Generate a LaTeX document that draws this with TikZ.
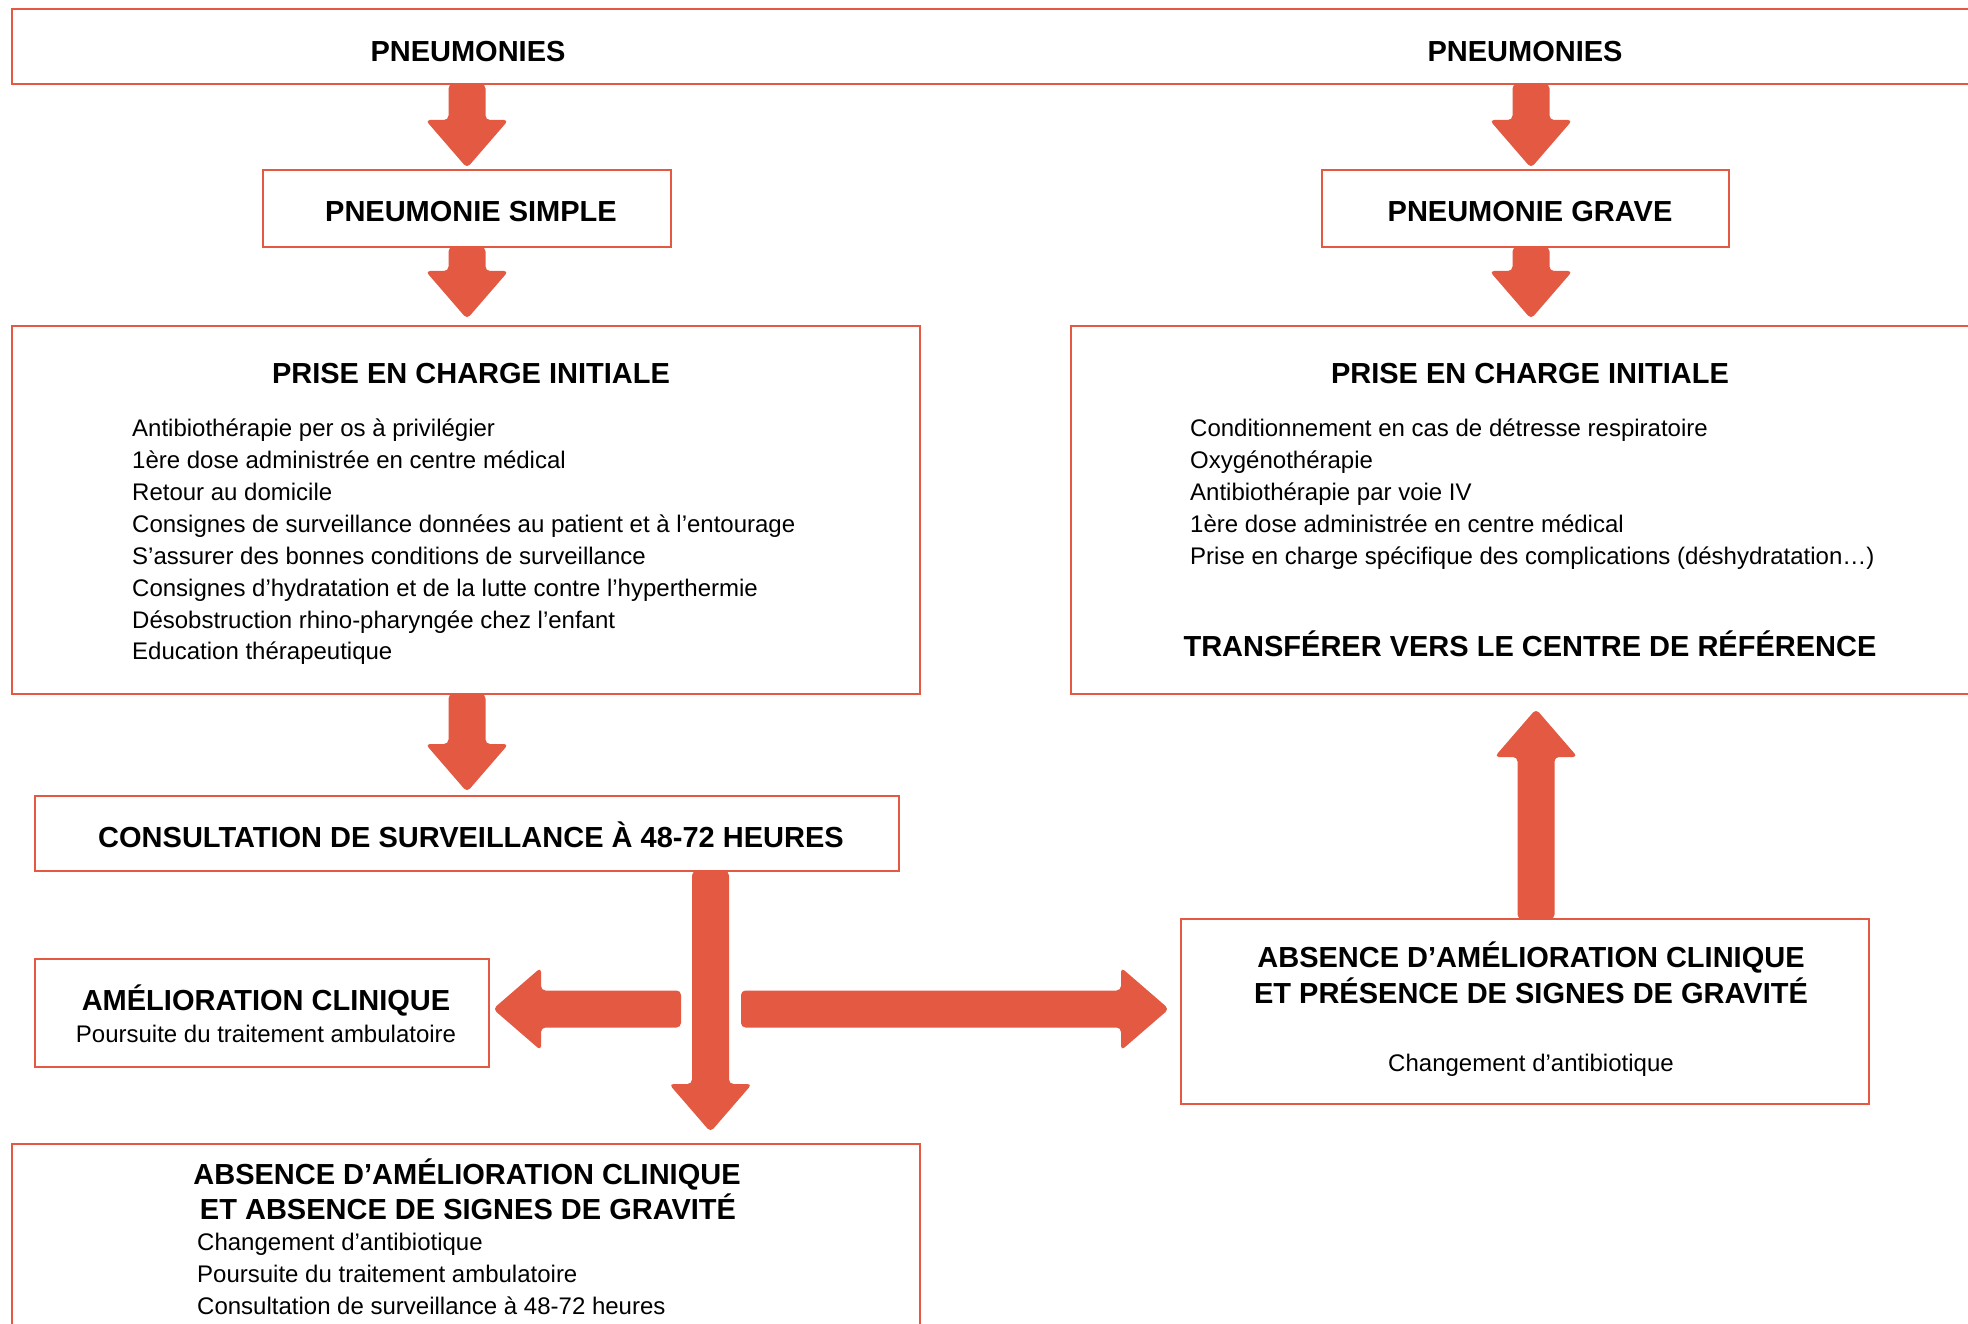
\documentclass[tikz,border=0pt]{standalone}
\usepackage{fontspec}
\setmainfont{Liberation Sans}
\usetikzlibrary{calc}
\definecolor{orc}{RGB}{228,89,66}
\tikzset{
  box/.style={draw=orc, line width=2.4pt, inner sep=0pt, outer sep=0pt, anchor=north west},
  ttl/.style={font=\fontsize{29}{34}\selectfont\bfseries, anchor=base, inner sep=0pt, yshift=-1.3pt},
  txt/.style={font=\fontsize{24}{29}\selectfont, anchor=base west, inner sep=0pt, yshift=-1.3pt},
  txtc/.style={font=\fontsize{24}{29}\selectfont, anchor=base, inner sep=0pt, yshift=-1.3pt},
}
\newcommand\fatarrow[2]{%
  \coordinate (fa-h) at ($(#2)!48pt!(#1)$);
  \fill[orc, rounded corners=4.5pt]
    ($(#1)!18.5pt!90:(#2)$) -- ($(fa-h)!18.5pt!90:(#2)$) -- ($(fa-h)!41.5pt!90:(#2)$)
    -- (#2) -- ($(fa-h)!41.5pt!-90:(#2)$) -- ($(fa-h)!18.5pt!-90:(#2)$)
    -- ($(#1)!18.5pt!-90:(#2)$) -- cycle;
}
\begin{document}
\begin{tikzpicture}[x=1pt,y=-1pt]
\useasboundingbox (0,0) rectangle (1968,1324);
\clip (0,0) rectangle (1968,1324);
\fill[white] (0,0) rectangle (1968,1324);

% boxes
\node[box, minimum width=1990pt, minimum height=75pt] (top) at (12,9) {};
\node[box, minimum width=408pt, minimum height=77pt] (simple) at (263,170) {};
\node[box, minimum width=407pt, minimum height=77pt] (grave) at (1322,170) {};
\node[box, minimum width=908pt, minimum height=368pt] (prisel) at (12,326) {};
\node[box, minimum width=930pt, minimum height=368pt] (priser) at (1071,326) {};
\node[box, minimum width=864pt, minimum height=75pt] (consult) at (35,796) {};
\node[box, minimum width=454pt, minimum height=108pt] (amel) at (35,959) {};
\node[box, minimum width=688pt, minimum height=185pt] (absR) at (1181,919) {};
\node[box, minimum width=908pt, minimum height=260pt] (absB) at (12,1144) {};

% titles
\node[ttl] (t1) at (468,60) {PNEUMONIES};
\node[ttl] (t2) at (1525,60) {PNEUMONIES};
\node[ttl] (t3) at (471,220.7) {PNEUMONIE SIMPLE};
\node[ttl] (t4) at (1530,220.7) {PNEUMONIE GRAVE};
\node[ttl] (t5) at (471,382) {PRISE EN CHARGE INITIALE};
\node[ttl] (t6) at (1530,382) {PRISE EN CHARGE INITIALE};
\node[ttl] (t7) at (1530,655.5) {TRANSFÉRER VERS LE CENTRE DE RÉFÉRENCE};
\node[ttl] (t8) at (471,845.7) {CONSULTATION DE SURVEILLANCE À 48-72 HEURES};
\node[ttl] (t9) at (266,1009.5) {AMÉLIORATION CLINIQUE};
\node[txtc] (t10) at (266,1041.6) {Poursuite du traitement ambulatoire};
\node[ttl] (t11) at (1531,966) {ABSENCE D’AMÉLIORATION CLINIQUE};
\node[ttl] (t12) at (1531,1001.7) {ET PRÉSENCE DE SIGNES DE GRAVITÉ};
\node[txtc] (t13) at (1531,1070) {Changement d’antibiotique};
\node[ttl] (t14) at (467,1183.3) {ABSENCE D’AMÉLIORATION CLINIQUE};
\node[ttl] (t15) at (468,1218) {ET ABSENCE DE SIGNES DE GRAVITÉ};

% lists
\foreach \t [count=\i] in {{Antibiothérapie per os à privilégier},
  {1ère dose administrée en centre médical},
  {Retour au domicile},
  {Consignes de surveillance données au patient et à l’entourage},
  {S’assurer des bonnes conditions de surveillance},
  {Consignes d’hydratation et de la lutte contre l’hyperthermie},
  {Désobstruction rhino-pharyngée chez l’enfant},
  {Education thérapeutique}}
  \node[txt] (pl\i) at (132,{435.3+31.9*(\i-1)}) {\t};
\foreach \t [count=\i] in {{Conditionnement en cas de détresse respiratoire},
  {Oxygénothérapie},
  {Antibiothérapie par voie IV},
  {1ère dose administrée en centre médical},
  {Prise en charge spécifique des complications (déshydratation…)}}
  \node[txt] (pr\i) at (1190,{435.3+31.9*(\i-1)}) {\t};
\foreach \t [count=\i] in {{Changement d’antibiotique},
  {Poursuite du traitement ambulatoire},
  {Consultation de surveillance à 48-72 heures}}
  \node[txt] (pb\i) at (197,{1249.5+32*(\i-1)}) {\t};

% arrow coordinates
\coordinate (hub) at (710.5,1009);
\coordinate (ax) at (1536,0);
\coordinate (gx) at (1531,0);
\coordinate (a1s) at (simple.north |- top.south);
\coordinate (a1e) at ($(simple.north)+(0,-2)$);
\coordinate (a2s) at (simple.south);
\coordinate (a2e) at ($(simple.south |- prisel.north)+(0,-7)$);
\coordinate (a3s) at (consult.north |- prisel.south);
\coordinate (a3e) at ($(consult.north)+(0,-4)$);
\coordinate (a4s) at (hub |- consult.south);
\coordinate (a4e) at ($(hub |- absB.north)+(0,-12)$);
\coordinate (a5s) at ($(hub)+(-29.5,0)$);
\coordinate (a5e) at ($(hub -| amel.east)+(4,0)$);
\coordinate (a6s) at ($(hub)+(30.5,0)$);
\coordinate (a6e) at ($(hub -| absR.west)+(-12,0)$);
\coordinate (a7s) at (ax |- absR.north);
\coordinate (a7e) at ($(ax |- priser.south)+(0,15)$);
\coordinate (a8s) at (gx |- top.south);
\coordinate (a8e) at ($(gx |- grave.north)+(0,-2)$);
\coordinate (a9s) at (gx |- grave.south);
\coordinate (a9e) at ($(gx |- priser.north)+(0,-7)$);

\fatarrow{a1s}{a1e}
\fatarrow{a2s}{a2e}
\fatarrow{a3s}{a3e}
\fatarrow{a4s}{a4e}
\fatarrow{a5s}{a5e}
\fatarrow{a6s}{a6e}
\fatarrow{a7s}{a7e}
\fatarrow{a8s}{a8e}
\fatarrow{a9s}{a9e}
\end{tikzpicture}
\end{document}
